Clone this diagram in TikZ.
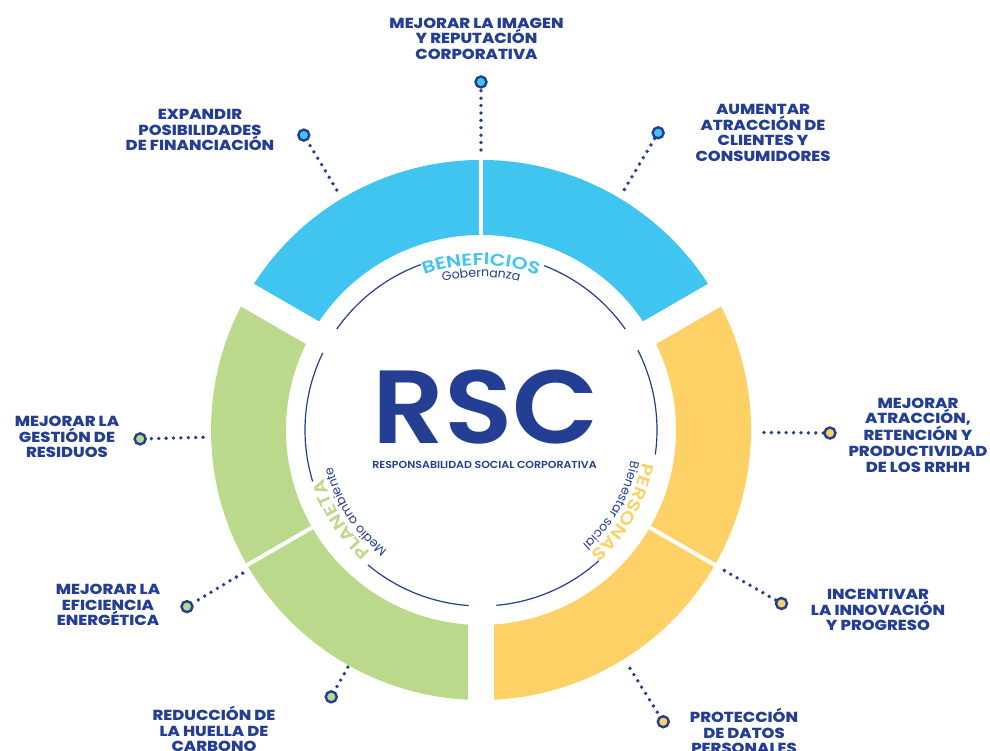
\documentclass[tikz,border=0pt]{standalone}
\usepackage{fontspec}
\setmainfont{Poppins}
\newfontfamily\lblfont{Poppins}[BoldFont=* ExtraBold, FakeStretch=1.13]
\newfontfamily\ringfont{Poppins}[UprightFont=* SemiBold, FakeStretch=1.2]
\newfontfamily\rscfont{Poppins}[UprightFont=* SemiBold, FakeStretch=1.08]
\usetikzlibrary{decorations.text}
\definecolor{rscblue}{RGB}{35,62,147}
\definecolor{ringblue}{RGB}{63,197,239}
\definecolor{ringgreen}{RGB}{186,217,138}
\definecolor{ringyellow}{RGB}{254,209,102}

\begin{document}
\begin{tikzpicture}[x=1pt,y=1pt]
    \tikzstyle{every node}+=[inner sep=0pt]
    \tikzstyle{benefit}=[align=center, text=rscblue, font=\lblfont\bfseries\fontsize{14.5}{15.6}\selectfont]
    \tikzstyle{pindot}=[circle, draw=rscblue, line width=2.4pt, minimum size=11pt]
    \tikzstyle{dotline}=[rscblue, line width=3.8pt, line cap=round, dash pattern=on 0pt off 7.4pt]
    \useasboundingbox (0,0) rectangle (990,751);
    \begin{scope}[shift={(481,321)}]
    % ring
    \fill[ringblue] (30:195) arc[start angle=30,end angle=150,radius=195] -- (150:270) arc[start angle=150,end angle=30,radius=270] -- cycle;
    \fill[ringgreen] (150:195) arc[start angle=150,end angle=270,radius=195] -- (270:270) arc[start angle=270,end angle=150,radius=270] -- cycle;
    \fill[ringyellow] (270:195) arc[start angle=270,end angle=390,radius=195] -- (30:270) arc[start angle=390,end angle=270,radius=270] -- cycle;
    \foreach \a in {30,150,270}
        \draw[white, line width=26pt] (\a:185) -- (\a:280);
    \foreach \a in {90,210,330}
        \draw[white, line width=4pt] (\a:185) -- (\a:280);
    % thin circle
    \foreach \s/\e in {35/69,110/145,154/197,230/266,275/312,-8/27}
        \draw[rscblue, line width=1.2pt] (\s:176) arc[start angle=\s,end angle=\e,radius=176];
    % ring texts
    \path[decorate, decoration={text along path, text align=center, text color=ringblue,
        text={|\ringfont\fontsize{17}{17}\selectfont|BENEFICIOS}}]
        (130:165) arc[start angle=130,end angle=50,radius=165];
    \path[decorate, decoration={text along path, text align=center, text color=rscblue,
        text={|\fontsize{12.5}{12.5}\selectfont|Gobernanza}}]
        (130:153) arc[start angle=130,end angle=50,radius=153];
    \path[decorate, decoration={text along path, text align=center, text color=ringgreen,
        text={|\ringfont\fontsize{17}{17}\selectfont|PLANETA}}]
        (252.5:165) arc[start angle=252.5,end angle=172.5,radius=165];
    \path[decorate, decoration={text along path, text align=center, text color=rscblue,
        text={|\fontsize{12.5}{12.5}\selectfont|Medio ambiente}}]
        (253:153) arc[start angle=253,end angle=173,radius=153];
    \path[decorate, decoration={text along path, text align=center, text color=ringyellow,
        text={|\ringfont\fontsize{17}{17}\selectfont|PERSONAS}}]
        (370:165) arc[start angle=370,end angle=290,radius=165];
    \path[decorate, decoration={text along path, text align=center, text color=rscblue,
        text={|\fontsize{12.5}{12.5}\selectfont|Bienestar social}}]
        (370:153) arc[start angle=370,end angle=290,radius=153];
    % pins
    \node[pindot, fill=ringblue] (dImagen) at (90:348) {};
    \node[pindot, fill=ringblue] (dClientes) at (59.2:346) {};
    \node[pindot, fill=ringblue] (dFinanc) at (121:344) {};
    \node[pindot, fill=ringyellow] (dRRHH) at (-0.5:349) {};
    \node[pindot, fill=ringgreen] (dResid) at (181.5:341) {};
    \node[pindot, fill=ringgreen] (dEnerg) at (211:343) {};
    \node[pindot, fill=ringyellow] (dInnov) at (330:347) {};
    \node[pindot, fill=ringgreen] (dCarb) at (240.7:306) {};
    \node[pindot, fill=ringyellow] (dDatos) at (302:344) {};
    \coordinate (sImagen) at (90:280);
    \coordinate (sClientes) at (59.2:280);
    \coordinate (sFinanc) at (121:280);
    \coordinate (sRRHH) at (-0.5:283);
    \coordinate (sResid) at (181.5:278);
    \coordinate (sEnerg) at (211:278);
    \coordinate (sInnov) at (330:281);
    \coordinate (sCarb) at (240.7:272);
    \coordinate (sDatos) at (302:281);
    \end{scope}
    % center
    \node[anchor=base, text=rscblue, font=\rscfont\fontsize{104}{104}\selectfont] (rsc) at (485.5,307) {RSC};
    \node[anchor=base, text=rscblue, font=\rscfont\fontsize{10.2}{10.2}\selectfont] (rscsub) at (484.5,282) {RESPONSABILIDAD SOCIAL CORPORATIVA};
    % labels
    \node[benefit] (tImagen) at (476.5,712.5) {MEJORAR LA IMAGEN\\Y REPUTACIÓN\\CORPORATIVA};
    \node[benefit] (tClientes) at (763,618) {AUMENTAR\\ATRACCIÓN DE\\CLIENTES Y\\CONSUMIDORES};
    \node[benefit] (tFinanc) at (200,621) {EXPANDIR\\POSIBILIDADES\\DE FINANCIACIÓN};
    \node[benefit] (tRRHH) at (918,316) {MEJORAR\\ATRACCIÓN,\\RETENCIÓN Y\\PRODUCTIVIDAD\\DE LOS RRHH};
    \node[benefit] (tResid) at (67,314) {MEJORAR LA\\GESTIÓN DE\\RESIDUOS};
    \node[benefit] (tEnerg) at (108,146) {MEJORAR LA\\EFICIENCIA\\ENERGÉTICA};
    \node[benefit] (tInnov) at (878,141) {INCENTIVAR\\LA INNOVACIÓN\\Y PROGRESO};
    \node[benefit] (tCarb) at (214,22) {REDUCCIÓN DE\\LA HUELLA DE\\CARBONO};
    \node[benefit] (tDatos) at (744,20) {PROTECCIÓN\\DE DATOS\\PERSONALES};
    % dotted connectors
    \foreach \n in {Imagen,Clientes,Financ,RRHH,Resid,Energ,Innov,Carb,Datos}
        \draw[dotline] (s\n) -- (d\n);
\end{tikzpicture}
\end{document}
